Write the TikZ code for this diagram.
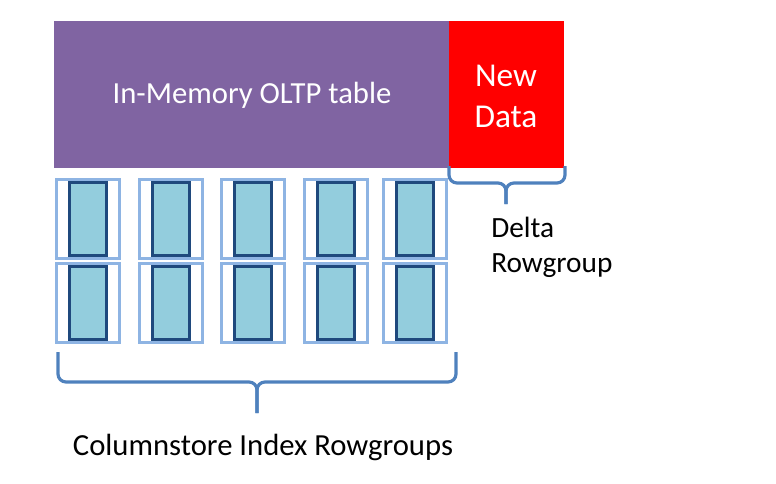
\documentclass[tikz,border=0pt]{standalone}
\usepackage{fontspec}
\setmainfont{Carlito}
\usetikzlibrary{positioning}
\definecolor{tablepurple}{HTML}{8064A2}
\definecolor{newred}{HTML}{FF0000}
\definecolor{groupblue}{HTML}{8EB4E3}
\definecolor{segfill}{HTML}{93CDDD}
\definecolor{segline}{HTML}{1F497D}
\definecolor{braceblue}{HTML}{4F81BD}
\begin{document}
\begin{tikzpicture}
[x=0.75pt,y=-0.75pt,
  tabledecorate/.style={shape=rectangle,fill=tablepurple,inner sep=0pt,
    minimum width=296.25pt,minimum height=110.25pt},%
  newdecorate/.style={shape=rectangle,fill=newred,inner sep=0pt,
    minimum width=86.25pt,minimum height=110.25pt},%
  groupdecorate/.style={shape=rectangle,draw=groupblue,line width=2.4pt,
    minimum width=47pt,minimum height=59.5pt,inner sep=0pt},%
  segdecorate/.style={shape=rectangle,draw=segline,fill=segfill,line width=2.25pt,
    minimum width=27.75pt,minimum height=54.75pt,inner sep=0pt},%
  bracedecorate/.style={-,draw=braceblue,line width=2.4pt,rounded corners=6pt},%
  whitetext/.style={text=white,inner sep=0pt},%
  blacktext/.style={text=black,inner sep=0pt}]
\useasboundingbox (0,0) rectangle (776,483);
%% table and new data
\node (table) at (251.5,94.5) [tabledecorate] {};
\node (newdata) at (506.5,94.5) [newdecorate] {};
\node (tabletext) at (252,103) [whitetext,anchor=base,font=\fontsize{23}{28}\selectfont] {In-Memory OLTP table};
\node (newtext) at (506,86) [whitetext,anchor=base,font=\fontsize{25}{30}\selectfont] {New};
\node (datatext) at (506,127) [whitetext,anchor=base,font=\fontsize{25}{30}\selectfont] {Data};
%% columnstore rowgroups
\foreach \col/\x in {1/88, 2/171, 3/253, 4/336, 5/415} {
  \foreach \row/\y in {top/219, bot/303} {
    \node (group\col\row) at (\x,\y) [groupdecorate] {};
    \node (seg\col\row) at (\x,\y) [segdecorate] {};
  }
}
%% braces
\coordinate (deltaL) at (449,166);
\coordinate (deltaR) at (565,166);
\coordinate (deltatip) at (506,204);
\draw[bracedecorate] (deltaL) |- (deltatip |- 0,183) -- (deltatip);
\draw[bracedecorate] (deltaR) |- (deltatip |- 0,183) -- (deltatip);
\coordinate (colL) at (58,352);
\coordinate (colR) at (456,352);
\coordinate (coltip) at (257,413);
\draw[bracedecorate] (colL) |- (coltip |- 0,382) -- (coltip);
\draw[bracedecorate] (colR) |- (coltip |- 0,382) -- (coltip);
%% labels
\node (deltatext) at (491,237) [blacktext,anchor=base west,font=\fontsize{22}{26}\selectfont] {Delta};
\node (rowgrouptext) at (491,272) [blacktext,anchor=base west,font=\fontsize{22}{26}\selectfont] {Rowgroup};
\node (coltext) at (263,455) [blacktext,anchor=base,font=\fontsize{23}{28}\selectfont] {Columnstore Index Rowgroups};
\end{tikzpicture}
\end{document}
